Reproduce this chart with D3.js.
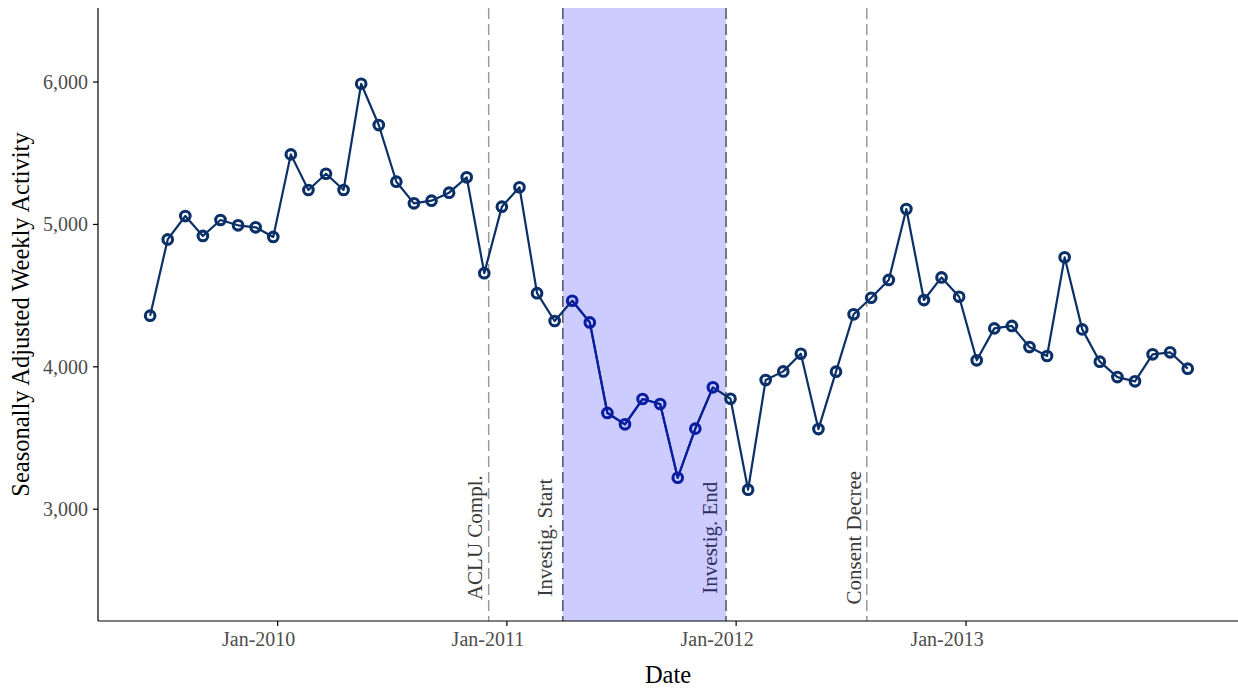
<!DOCTYPE html>
<html>
<head>
<meta charset="utf-8">
<script src="https://cdn.jsdelivr.net/npm/d3@7"></script>
<style>
  html, body { margin: 0; padding: 0; background: #fff; }
  svg { display: block; font-family: "Liberation Serif", "DejaVu Serif", serif; }
</style>
</head>
<body>
<svg id="chart" width="1238" height="690"></svg>
<script>
// ---- data (4-week periods) ----
const periodDates = [
  "2009-06-12","2009-07-10","2009-08-07","2009-09-04","2009-10-02","2009-10-30","2009-11-27","2009-12-25",
  "2010-01-22","2010-02-19","2010-03-19","2010-04-16","2010-05-14","2010-06-11","2010-07-09","2010-08-06",
  "2010-09-03","2010-10-01","2010-10-29","2010-11-26","2010-12-24",
  "2011-01-21","2011-02-18","2011-03-18","2011-04-15","2011-05-13","2011-06-10","2011-07-08","2011-08-05",
  "2011-09-02","2011-09-30","2011-10-28","2011-11-25","2011-12-23",
  "2012-01-20","2012-02-17","2012-03-16","2012-04-13","2012-05-11","2012-06-08","2012-07-06","2012-08-03",
  "2012-08-31","2012-09-28","2012-10-26","2012-11-23","2012-12-21",
  "2013-01-18","2013-02-15","2013-03-15","2013-04-12","2013-05-10","2013-06-07","2013-07-05","2013-08-02",
  "2013-08-30","2013-09-27","2013-10-25","2013-11-22","2013-12-20"
];
const activity = [
  4359, 4895, 5059, 4919, 5031, 4994, 4980, 4912,
  5492, 5242, 5356, 5242, 5988, 5698, 5300, 5148,
  5167, 5223, 5331, 4658, 5125,
  5261, 4517, 4322, 4464, 4312, 3676, 3596, 3774,
  3739, 3221, 3566, 3856, 3776,
  3137, 3907, 3968, 4092, 3563, 3966, 4369, 4485,
  4610, 5108, 4469, 4628, 4492, 4046, 4270, 4287,
  4139, 4076, 4769, 4263, 4036, 3928, 3898, 4088,
  4102, 3987
];
const eventNames = ["ACLU Compl.", "Investig. Start", "Investig. End", "Consent Decree"];
const eventDates = ["2010-12-03", "2011-03-31", "2011-12-16", "2012-07-27"];
const investigation = ["2011-03-31", "2011-12-16"];
const xTickDates = ["2010-01-01", "2011-01-01", "2012-01-01", "2013-01-01"];
const xTickLabels = ["Jan-2010", "Jan-2011", "Jan-2012", "Jan-2013"];
const yTicks = [3000, 4000, 5000, 6000];
const xDomain = ["2009-03-21", "2014-03-10"];
const yDomain = [2215, 6520];

// ---- setup ----
const parse = d3.utcParse("%Y-%m-%d");
const data = periodDates.map((d, i) => ({ date: parse(d), value: activity[i] }));
const plot = { left: 98, right: 1238, top: 8, bottom: 621 };

const svg = d3.select("#chart");
const x = d3.scaleUtc().domain(xDomain.map(parse)).range([plot.left, plot.right]);
const y = d3.scaleLinear().domain(yDomain).range([plot.bottom, plot.top]);

const navy = "#0b3068";
const blue = "#0a1ca2";

// ---- event lines ----
const events = eventNames.map((n, i) => ({ name: n, date: parse(eventDates[i]), investig: i === 1 || i === 2 }));
svg.append("g").selectAll("line").data(events).join("line")
  .attr("x1", d => x(d.date)).attr("x2", d => x(d.date))
  .attr("y1", plot.top).attr("y2", plot.bottom)
  .attr("stroke", d => d.investig ? "#5a5a5a" : "#9a9a9a")
  .attr("stroke-width", 1.5)
  .attr("stroke-dasharray", "11,5");

// ---- event labels ----
const labelDx = [-7, -11, -9, -6];
svg.append("g").selectAll("text").data(events).join("text")
  .attr("transform", (d, i) => `translate(${x(d.date) + labelDx[i]},${y(2800)}) rotate(-90)`)
  .attr("text-anchor", "middle")
  .attr("font-size", 21)
  .attr("fill", "#3a3a3a")
  .text(d => d.name);

// ---- investigation shading ----
const i0 = parse(investigation[0]), i1 = parse(investigation[1]);
svg.append("rect")
  .attr("x", x(i0)).attr("width", x(i1) - x(i0))
  .attr("y", plot.top).attr("height", plot.bottom - plot.top)
  .attr("fill", "#0000ff").attr("fill-opacity", 0.2);

// ---- series ----
const line = d3.line().x(d => x(d.date)).y(d => y(d.value));
svg.append("path").datum(data)
  .attr("d", line).attr("fill", "none")
  .attr("stroke", navy).attr("stroke-width", 2.2).attr("stroke-linejoin", "round");

const inside = data.filter(d => d.date >= i0 && d.date <= i1);
svg.append("path").datum(inside)
  .attr("d", line).attr("fill", "none")
  .attr("stroke", blue).attr("stroke-width", 2.2).attr("stroke-linejoin", "round");

svg.append("g").selectAll("circle").data(data).join("circle")
  .attr("cx", d => x(d.date)).attr("cy", d => y(d.value))
  .attr("r", 4.8)
  .attr("fill", "none")
  .attr("stroke", d => (d.date >= i0 && d.date <= i1) ? blue : navy)
  .attr("stroke-width", 3.1);

// ---- axes ----
const xAxis = svg.append("g").attr("transform", `translate(0,${plot.bottom})`);
xAxis.append("line").attr("x1", plot.left).attr("x2", plot.right)
  .attr("stroke", "#000").attr("stroke-width", 1.2);
const xt = xAxis.selectAll("g.tick").data(xTickDates).join("g")
  .attr("class", "tick")
  .attr("transform", d => `translate(${x(parse(d))},0)`);
xt.append("line").attr("y1", 0).attr("y2", 5).attr("stroke", "#000").attr("stroke-width", 1.2);
xt.append("text").attr("x", -19).attr("y", 25).attr("text-anchor", "middle")
  .attr("font-size", 20).attr("fill", "#4d4d4d")
  .text((d, i) => xTickLabels[i]);

const yAxis = svg.append("g").attr("transform", `translate(${plot.left},0)`);
yAxis.append("line").attr("y1", plot.top).attr("y2", plot.bottom)
  .attr("stroke", "#000").attr("stroke-width", 1.2);
const yt = yAxis.selectAll("g.tick").data(yTicks).join("g")
  .attr("class", "tick")
  .attr("transform", d => `translate(0,${y(d)})`);
yt.append("line").attr("x1", -5).attr("x2", 0).attr("stroke", "#000").attr("stroke-width", 1.2);
yt.append("text").attr("x", -10).attr("dy", "0.35em").attr("text-anchor", "end")
  .attr("font-size", 20).attr("fill", "#4d4d4d")
  .text(d => d3.format(",")(d));

// ---- titles ----
svg.append("text")
  .attr("x", (plot.left + plot.right) / 2).attr("y", 683)
  .attr("text-anchor", "middle").attr("font-size", 24.5).attr("fill", "#000")
  .text("Date");
svg.append("text")
  .attr("transform", `translate(29,${(plot.top + plot.bottom) / 2}) rotate(-90)`)
  .attr("text-anchor", "middle").attr("font-size", 24.5).attr("fill", "#000")
  .text("Seasonally Adjusted Weekly Activity");
</script>
</body>
</html>
